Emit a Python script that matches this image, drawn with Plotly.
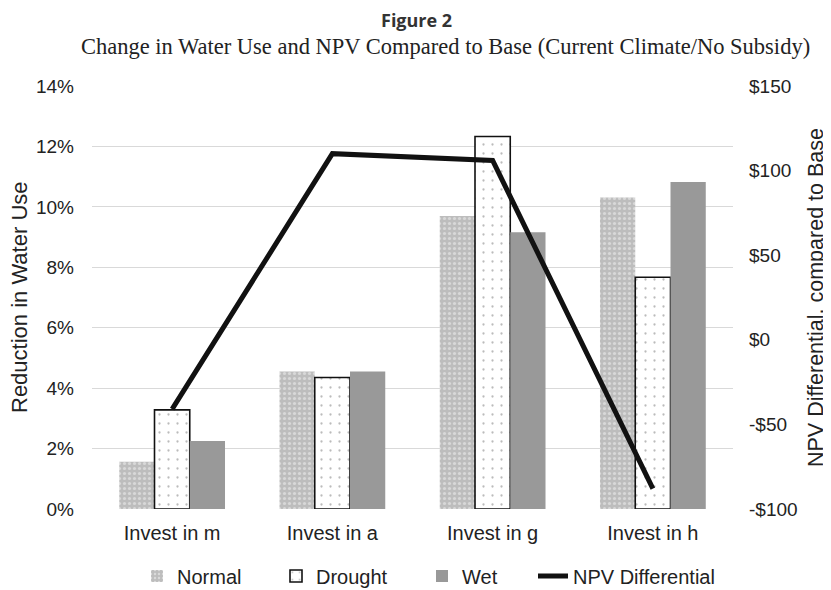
import plotly.graph_objects as go

categories = ["Invest in m", "Invest in a", "Invest in g", "Invest in h"]
normal = [1.56, 4.55, 9.70, 10.31]
drought = [3.28, 4.35, 12.33, 7.67]
wet = [2.25, 4.55, 9.16, 10.82]
npv = [-41, 110, 106, -88]

left_tickvals = [0, 2, 4, 6, 8, 10, 12, 14]
left_ticktext = ["0%", "2%", "4%", "6%", "8%", "10%", "12%", "14%"]
right_tickvals = [-100, -50, 0, 50, 100, 150]
right_ticktext = ["-$100", "-$50", "$0", "$50", "$100", "$150"]

FONT = "Liberation Sans"
OFF = 8  # page body margin in the browser
W, H = 831 - OFF, 590 - OFF
ML, MT = 92 - OFF, 86 - OFF
MR = W - (733 - OFF)
MB = H - (509 - OFF)
PW, PH = W - ML - MR, H - MT - MB


def px_x(x):
    """screenshot x pixel -> paper coordinate"""
    return (x - OFF - ML) / PW


def px_y(y):
    """screenshot y pixel -> paper coordinate"""
    return (H - MB - (y - OFF)) / PH


fig = go.Figure()
fig.add_trace(go.Bar(
    x=categories, y=normal, name="Normal", legend="legend",
    marker=dict(color="#c8c8c8", line=dict(width=0),
                pattern=dict(shape=".", fgcolor="#f4f4f4", bgcolor="#bdbdbd",
                             size=5, solidity=0.3)),
))
fig.add_trace(go.Bar(
    x=categories, y=drought, name="Drought", legend="legend2",
    marker=dict(color="#ffffff", line=dict(width=1.6, color="#111111"),
                pattern=dict(shape=".", fgcolor="#777777", bgcolor="#ffffff",
                             size=9, solidity=0.05)),
))
fig.add_trace(go.Bar(
    x=categories, y=wet, name="Wet", legend="legend3",
    marker=dict(color="#999999", line=dict(width=0)),
))
fig.add_trace(go.Scatter(
    x=categories, y=npv, name="NPV Differential", yaxis="y2", legend="legend4",
    mode="lines", line=dict(color="#111111", width=5),
))

legend_text_x = [177, 316, 462, 573]
legends = {}
for i, tx in enumerate(legend_text_x):
    key = "legend" if i == 0 else f"legend{i + 1}"
    legends[key] = dict(orientation="h", x=px_x(tx - 40), xanchor="left",
                        y=px_y(576), yanchor="middle",
                        font=dict(size=20, family=FONT), itemwidth=30,
                        bgcolor="rgba(0,0,0,0)")

fig.update_layout(
    width=W, height=H,
    paper_bgcolor="white", plot_bgcolor="white",
    font=dict(family=FONT, size=19, color="#222222"),
    margin=dict(l=ML, r=MR, t=MT, b=MB, autoexpand=False),
    barmode="group", bargap=0.34, bargroupgap=0,
    showlegend=True,
    xaxis=dict(showgrid=False, showline=False, ticks="", tickfont=dict(size=20),
               automargin=False, ticklabelstandoff=10),
    yaxis=dict(range=[0, 14], tickvals=left_tickvals, ticktext=left_ticktext,
               showgrid=True, gridcolor="#d9d9d9", gridwidth=1.2, zeroline=False,
               showline=False, ticks="", ticklabelstandoff=17,
               tickfont=dict(size=19), automargin=False),
    yaxis2=dict(range=[-100, 150], tickvals=right_tickvals, ticktext=right_ticktext,
                overlaying="y", side="right", showgrid=False, zeroline=False,
                showline=False, ticks="", ticklabelstandoff=15,
                tickfont=dict(size=19), automargin=False),
    annotations=[
        dict(text="<b>Figure 2</b>", x=px_x(416), xref="paper", y=px_y(20), yref="paper",
             yanchor="middle", showarrow=False,
             font=dict(family="Open Sans, sans-serif", size=18, color="#333")),
        dict(text="Change in Water Use and NPV Compared to Base (Current Climate/No Subsidy)",
             x=px_x(445), xref="paper", y=px_y(46), yref="paper", yanchor="middle",
             showarrow=False,
             font=dict(family="Liberation Serif", size=22.5, color="#222")),
        dict(text="Reduction in Water Use", textangle=-90,
             x=px_x(19), xref="paper", y=px_y(297), yref="paper",
             xanchor="center", yanchor="middle", showarrow=False,
             font=dict(family=FONT, size=22, color="#222")),
        dict(text="NPV Differential, compared to Base", textangle=-90,
             x=px_x(816), xref="paper", y=px_y(298), yref="paper",
             xanchor="center", yanchor="middle", showarrow=False,
             font=dict(family=FONT, size=21.5, color="#222")),
    ],
    **legends,
)

fig.write_html("out.html")
